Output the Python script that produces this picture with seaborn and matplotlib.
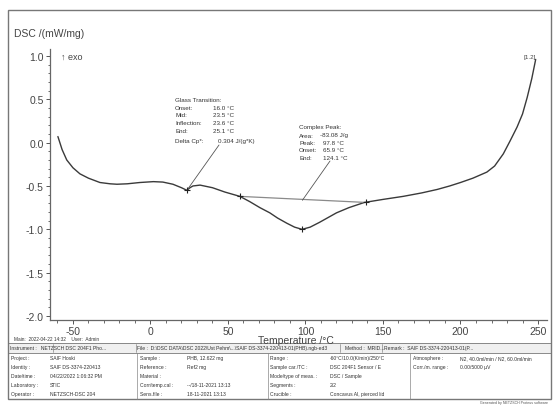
import matplotlib
matplotlib.use("Agg")
import matplotlib.pyplot as plt
import seaborn as sns
import numpy as np
import pandas as pd
from matplotlib.lines import Line2D
from matplotlib.patches import Rectangle
from matplotlib.ticker import MultipleLocator

# DSC curve
temperature = [-59.7, -57, -54, -50, -45.5, -40, -32.6, -26, -21.6, -15, -6.8, 1.9, 8, 14.5,
               20, 23.5, 25.5, 27.4, 32, 40, 48, 57.7, 64, 70.6, 77, 82, 88, 93, 97.8,
               103, 109, 114, 120, 128, 138, 150, 163, 175, 185, 193, 200, 208, 217,
               222, 227.6, 232, 236.5, 240, 243, 246, 248.5]
dsc = [0.07, -0.08, -0.2, -0.29, -0.36, -0.41, -0.46, -0.475, -0.48, -0.475, -0.46, -0.45, -0.455, -0.48,
       -0.52, -0.55, -0.52, -0.50, -0.49, -0.52, -0.57, -0.62, -0.68, -0.75, -0.81, -0.87, -0.93, -0.975, -1.0,
       -0.975, -0.92, -0.87, -0.81, -0.75, -0.69, -0.655, -0.62, -0.58, -0.54, -0.50, -0.46, -0.41, -0.34,
       -0.27, -0.13, 0.02, 0.18, 0.33, 0.52, 0.74, 0.96]

# evaluation marks
mark_t = [23.5, 57.7, 97.8, 139]
mark_y = [-0.55, -0.62, -1.0, -0.69]
base_t = [57.7, 139]
base_y = [-0.62, -0.69]

glass_labels = ["Onset:", "Mid:", "Inflection:", "End:"]
glass_values = ["16.0 \u00b0C", "23.5 \u00b0C", "23.6 \u00b0C", "25.1 \u00b0C"]
peak_labels = ["Area:", "Peak:", "Onset:", "End:"]
peak_values = ["-83.08 J/g", "97.8 \u00b0C", "65.9 \u00b0C", "124.1 \u00b0C"]

x_ticks = [-50, 0, 50, 100, 150, 200, 250]
y_ticks = [-2.0, -1.5, -1.0, -0.5, 0.0, 0.5, 1.0]

header_cells = [
    "Instrument :   NETZSCH DSC 204F1 Pho...",
    "File :  D:\\DSC DATA\\DSC 2022\\Ust Pehm\\...\\SAIF DS-3374-220413-01(PHB).ngb-ed3",
    "Method :  MRID...",
    "Remark :  SAIF DS-3374-220413-01(P...",
]
col1 = [("Project :", "SAIF Hoski"), ("Identity :", "SAIF DS-3374-220413"),
        ("Date/time :", "04/22/2022 1:06:32 PM"), ("Laboratory :", "STIC"),
        ("Operator :", "NETZSCH-DSC 204")]
col2 = [("Sample :", "PHB, 12.622 mg"), ("Reference :", "Ref2 mg"), ("Material :", ""),
        ("Corr/temp.cal :", "--/18-11-2021 13:13"), ("Sens.file :", "18-11-2021 13:13")]
col3 = [("Range :", "-60\u00b0C/10.0(K/min)/250\u00b0C"), ("Sample car./TC :", "DSC 204F1 Sensor / E"),
        ("Mode/type of meas. :", "DSC / Sample"), ("Segments :", "2/2"),
        ("Crucible :", "Concavus Al, pierced lid")]
col4 = [("Atmosphere :", "N2, 40.0ml/min / N2, 60.0ml/min"), ("Corr./m. range :", "0.00/5000 \u00b5V")]

W, H = 553, 406


def px(x, y):
    return (x / W, 1 - y / H)


sns.set_theme(style="white")
plt.rcParams['font.family'] = ['Liberation Sans', 'DejaVu Sans']
plt.rcParams['axes.unicode_minus'] = False

fig = plt.figure(figsize=(W / 100, H / 100), dpi=100)
l, b = px(50, 321)
r, t = px(547, 50)
ax = fig.add_axes([l, b, r - l, t - b])

curve = pd.DataFrame({"T": temperature, "DSC": dsc})
sns.lineplot(data=curve, x="T", y="DSC", sort=False, color="#3a3a3a", lw=1.0, ax=ax)
sns.lineplot(x=base_t, y=base_y, color="#8a8a8a", lw=0.9, ax=ax)
sns.scatterplot(x=mark_t, y=mark_y, marker="+", color="#222222", s=25, linewidth=0.8, ax=ax, zorder=5)

ax.set_xlim(-64.8, 255.8)
ax.set_ylim(-2.046, 1.08)
ax.set_xticks(x_ticks)
ax.set_yticks(y_ticks)
ax.set_yticklabels([f"{v:.1f}" for v in y_ticks])
ax.xaxis.set_minor_locator(MultipleLocator(10))
ax.yaxis.set_minor_locator(MultipleLocator(0.1))
ax.tick_params(which="major", direction="out", length=3, width=0.7, color="#555555",
               labelsize=7.5, labelcolor="#444444", pad=1.5, bottom=True, left=True)
ax.tick_params(which="minor", direction="out", length=1.8, width=0.6, color="#555555",
               bottom=True, left=True)
ax.set_xlabel("")
ax.set_ylabel("")
for side in ["top", "right"]:
    ax.spines[side].set_visible(False)
for side in ["left", "bottom"]:
    ax.spines[side].set_color("#666666")
    ax.spines[side].set_linewidth(0.9)
ax.patch.set_alpha(0)

# axis captions
fig.text(*px(14, 34), "DSC /(mW/mg)", fontsize=7.5, color="#444444", va="center")
fig.text(*px(61, 57), "\u2191 exo", fontsize=6.5, color="#444444", va="center")
fig.text(*px(258, 341), "Temperature /\u00b0C", fontsize=7.5, color="#444444", va="center")
fig.text(*px(524, 57), "[1.2]", fontsize=4.5, color="#444444", va="center")

# glass transition block
fs = 4.5
fig.text(*px(175, 100), "Glass Transition:", fontsize=fs, color="#333333", va="center")
for i, (lab, val) in enumerate(zip(glass_labels, glass_values)):
    y = 108 + i * 7.7
    fig.text(*px(175, y), lab, fontsize=fs, color="#333333", va="center")
    fig.text(*px(213, y), val, fontsize=fs, color="#333333", va="center")
fig.text(*px(175, 142), "Delta Cp*:", fontsize=fs, color="#333333", va="center")
fig.text(*px(218, 142), "0.304 J/(g*K)", fontsize=fs, color="#333333", va="center")
ax.annotate("", xy=(mark_t[0], mark_y[0]), xycoords="data", xytext=px(219, 146),
            textcoords="figure fraction",
            arrowprops=dict(arrowstyle="-", color="#555555", lw=0.6, shrinkA=0, shrinkB=0))

# complex peak block
fig.text(*px(299, 128), "Complex Peak:", fontsize=fs, color="#333333", va="center")
for i, (lab, val) in enumerate(zip(peak_labels, peak_values)):
    y = 136 + i * 7.5
    fig.text(*px(299, y), lab, fontsize=fs, color="#333333", va="center")
    fig.text(*px(320 if i == 0 else 323, y), val, fontsize=fs, color="#333333", va="center")
ax.annotate("", xy=(98, -0.665), xycoords="data", xytext=px(330, 162),
            textcoords="figure fraction",
            arrowprops=dict(arrowstyle="-", color="#555555", lw=0.6, shrinkA=0, shrinkB=0))

# outer frame
fig.add_artist(Rectangle(px(8, 400), (551 - 8) / W, (400 - 11) / H, transform=fig.transFigure,
                         fill=False, edgecolor="#777777", lw=1.0))

# info table
tfs = 3.6
tc = "#333333"
fig.text(*px(14, 340), "Main:  2022-04-22 14:32    User:  Admin", fontsize=3.4, color=tc, va="center")


def hline(y, x0=8, x1=551, c="#777777", lw=0.6):
    fig.add_artist(Line2D([x0 / W, x1 / W], [1 - y / H, 1 - y / H], transform=fig.transFigure,
                          color=c, lw=lw))


def vline(x, y0, y1, c="#888888", lw=0.5):
    fig.add_artist(Line2D([x / W, x / W], [1 - y0 / H, 1 - y1 / H], transform=fig.transFigure,
                          color=c, lw=lw))


hline(344)
hline(354)
fig.add_artist(Rectangle(px(8, 354), (551 - 8) / W, 10 / H, transform=fig.transFigure,
                         facecolor="#f0f0f0", edgecolor="none", zorder=0))
hx = [10, 137, 345, 384]
for x, txt in zip(hx, header_cells):
    fig.text(*px(x, 349), txt, fontsize=tfs, color=tc, va="center")
for x in [53, 136, 340, 382]:
    vline(x, 345, 353)

cols = [(col1, 11, 50), (col2, 140, 187), (col3, 270, 330), (col4, 413, 460)]
for rows, xl, xv in cols:
    for i, (lab, val) in enumerate(rows):
        y = 359 + i * 9
        fig.text(*px(xl, y), lab, fontsize=tfs, color=tc, va="center")
        fig.text(*px(xv, y), val, fontsize=tfs, color=tc, va="center")
for x in [137, 268, 410]:
    vline(x, 354, 400)

fig.text(*px(548, 403), "Generated by NETZSCH Proteus software", fontsize=2.6, color="#555555",
         va="center", ha="right")

plt.savefig("out.png", dpi=100)
